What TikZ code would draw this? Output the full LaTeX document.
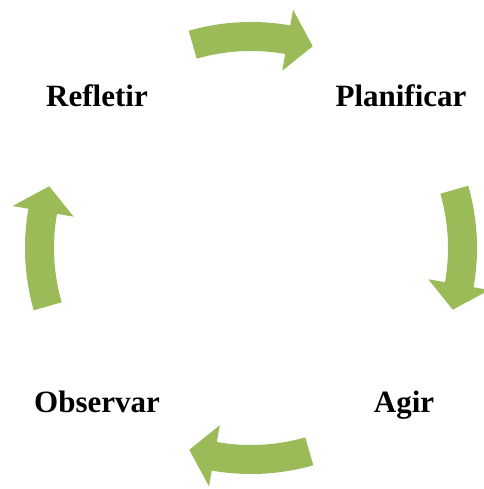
\documentclass[tikz,border=0pt]{standalone}
\usepackage{fontspec}
\setmainfont{Liberation Serif}
\usetikzlibrary{positioning}
\definecolor{olive}{HTML}{9BBB59}

\begin{document}
\begin{tikzpicture}[
  x=1pt,y=1pt,
  stage/.style={font=\fontsize{31}{31}\selectfont\bfseries,anchor=base,inner sep=0pt},
  cyclearrow/.style={fill=olive}
]
\useasboundingbox (0,0) rectangle (483,489);
\coordinate (c) at (251,241);
\node[stage] (refletir) at (97,382) {Refletir};
\node[stage] (planificar) at (401,382) {Planificar};
\node[stage] (agir) at (404,76) {Agir};
\node[stage] (observar) at (97,76) {Observar};
% the four block arrows of the cycle
\begin{scope}[shift={(c)}]
\foreach \a in {90,0,-90,180}
  \fill[cyclearrow] (\a+16:197pt) arc[start angle=\a+16,end angle=\a-10,radius=197pt]
    -- (\a-10:180pt) -- (\a-17:211pt) -- (\a-10:242pt) -- (\a-10:226pt)
    arc[start angle=\a-10,end angle=\a+16,radius=226pt] -- cycle;
\end{scope}
\end{tikzpicture}
\end{document}
